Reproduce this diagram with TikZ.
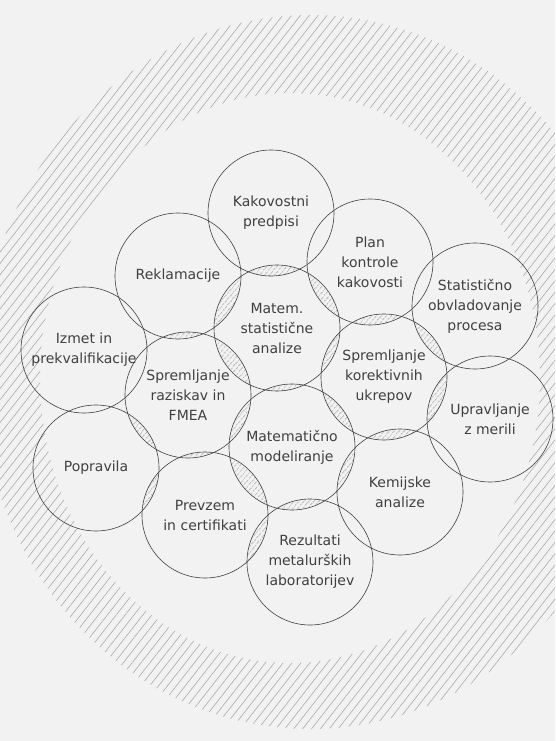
\documentclass[tikz,border=0pt]{standalone}
\usepackage{fontspec}
\setmainfont{DejaVu Sans}
\usetikzlibrary{patterns.meta}
\tikzset{
    zone/.style={circle, draw=black!75, line width=0.6pt, minimum size=126pt, inner sep=0pt,
                 align=center, text=black!75, font=\fontsize{14}{20}\selectfont},
    lens/.style={pattern={Lines[angle=50, distance=4pt, line width=0.5pt]}, pattern color=black!65},
    ring/.style={pattern={Lines[angle=52, distance=7pt, line width=0.55pt]}, pattern color=black!35},
}

\begin{document}
\begin{tikzpicture}[x=1pt, y=-1pt]
    \clip (0,0) rectangle (555,741);
    \fill[black!5] (0,0) rectangle (555,741);
    % hatched ring round the cluster
    \fill[ring, even odd rule] (310,372) ellipse[x radius=330, y radius=357]
                               (290,378) ellipse[x radius=250, y radius=285];
    % outer circles
    \node[zone] (kak) at (271,213) {Kakovostni\\predpisi};
    \node[zone] (rek) at (178,276) {Reklamacije};
    \node[zone] (plan) at (370,262) {Plan\\kontrole\\kakovosti};
    \node[zone] (stat) at (475,306) {Statistično\\obvladovanje\\procesa};
    \node[zone] (izm) at (84,350) {Izmet in\\prekvalifikacije};
    \node[zone] (upr) at (490,419) {Upravljanje\\z merili};
    \node[zone] (pop) at (96,468) {Popravila};
    % inner circles
    \node[zone] (mst) at (277,328) {Matem.\\statistične\\analize};
    \node[zone] (kor) at (384,377) {Spremljanje\\korektivnih\\ukrepov};
    \node[zone] (fmea) at (188,395) {Spremljanje\\raziskav in\\FMEA};
    \node[zone] (mod) at (292,447) {Matematično\\modeliranje};
    \node[zone] (kem) at (400,492) {Kemijske\\analize};
    \node[zone] (prev) at (205,515) {Prevzem\\in certifikati};
    \node[zone] (rez) at (310,562) {Rezultati\\metalurških\\laboratorijev};
    % hatched overlaps
    \foreach \a/\b in {kak/mst, rek/mst, plan/mst, mst/kor, mst/fmea, mst/mod,
                       plan/kor, stat/kor, kor/upr, kor/mod, kor/kem, mod/kem,
                       mod/rez, mod/prev, mod/fmea, fmea/prev, fmea/pop, fmea/rek,
                       pop/prev, prev/rez}{
        \begin{scope}
            \clip (\a.center) circle[radius=63];
            \fill[lens] (\b.center) circle[radius=63];
        \end{scope}
    }
\end{tikzpicture}
\end{document}
